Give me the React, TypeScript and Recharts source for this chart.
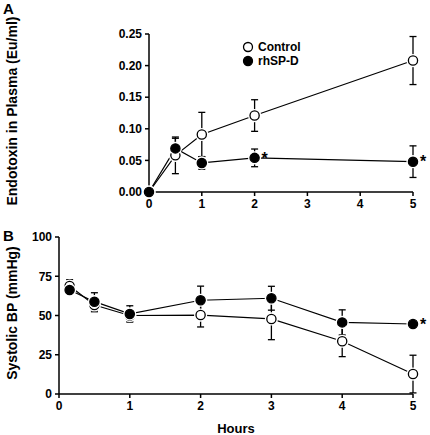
import React from "react";
import { ErrorBar, LabelList, Legend, Line, LineChart, XAxis, YAxis } from "recharts";

// Panel A: endotoxin in plasma (Eu/ml)
const hoursA = [0, 0.5, 1, 2, 5];
const controlA = [0, 0.058, 0.091, 0.121, 0.208];
const controlAErr = [0, 0.029, 0.035, 0.025, 0.038];
const rhspdA = [0, 0.069, 0.046, 0.054, 0.048];
const rhspdAErr = [0, 0.016, 0.01, 0.014, 0.025];
const sigA = ["", "", "", "*", "*"];
const endoTicks = [0, 0.05, 0.1, 0.15, 0.2, 0.25];

// Panel B: systolic blood pressure (mmHg)
const hoursB = [0.15, 0.5, 1, 2, 3, 4, 5];
const controlB = [68.8, 56.7, 50, 50.3, 47.8, 33.6, 12.7];
const controlBErr = [4, 4.3, 3.5, 7.6, 13.2, 9.8, 12];
const rhspdB = [66.2, 58.8, 51, 59.7, 61, 45.6, 44.6];
const rhspdBErr = [2, 5.7, 5.2, 9, 7.6, 8, 2];
const sigB = ["", "", "", "", "", "", "*"];
const bpTicks = [0, 25, 50, 75, 100];

const hourTicks = [0, 1, 2, 3, 4, 5];
const seriesNames = ["Control", "rhSP-D"];

const tableA = hoursA.map((hour, i) => ({
  hour,
  control: controlA[i],
  controlErr: controlAErr[i],
  rhspd: rhspdA[i],
  rhspdErr: rhspdAErr[i],
  sig: sigA[i],
}));

const tableB = hoursB.map((hour, i) => ({
  hour,
  control: controlB[i],
  controlErr: controlBErr[i],
  rhspd: rhspdB[i],
  rhspdErr: rhspdBErr[i],
  sig: sigB[i],
}));

const FONT = '"Liberation Sans", Arial, sans-serif';
const tickStyle = { fill: "#000", fontSize: 12, fontWeight: 700, fontFamily: FONT };
const axisStroke = { stroke: "#000", strokeWidth: 1.5 };

function Marker(props: any) {
  const { cx, cy, filled } = props;
  if (cx == null || cy == null) return null;
  return (
    <g>
      <circle cx={cx} cy={cy} r={6.6} fill="#fff" />
      <circle cx={cx} cy={cy} r={4.6} fill={filled ? "#000" : "#fff"} stroke="#000" strokeWidth={1.3} />
    </g>
  );
}

function LegendBox() {
  return (
    <div style={{ fontFamily: FONT, fontWeight: 700, fontSize: 12, lineHeight: "14px" }}>
      {seriesNames.map((name, i) => (
        <div key={name} style={{ display: "flex", alignItems: "center" }}>
          <svg width={12} height={12} style={{ marginRight: 4 }}>
            <circle cx={6} cy={6} r={4.5} fill={i === 1 ? "#000" : "#fff"} stroke="#000" strokeWidth={1.3} />
          </svg>
          {name}
        </div>
      ))}
    </div>
  );
}

function Panel({
  data,
  height,
  margin,
  xHeight,
  domain,
  ticks,
  format,
  showLegend,
  xLabel,
}: {
  data: any[];
  height: number;
  margin: { top: number; right: number; left: number; bottom: number };
  xHeight: number;
  domain: [number, number];
  ticks: number[];
  format: (v: number) => string;
  showLegend?: boolean;
  xLabel?: string;
}) {
  return (
    <LineChart width={430} height={height} data={data} margin={margin}>
      <XAxis
        type="number"
        dataKey="hour"
        domain={[0, 5]}
        ticks={hourTicks}
        height={xHeight}
        tickSize={4}
        tickMargin={3}
        axisLine={axisStroke}
        tickLine={axisStroke}
        tick={tickStyle}
        label={
          xLabel
            ? {
                value: xLabel,
                position: "insideBottom",
                offset: 1,
                style: { fill: "#000", fontSize: 13, fontWeight: 700, fontFamily: FONT },
              }
            : undefined
        }
      />
      <YAxis
        type="number"
        domain={domain}
        ticks={ticks}
        width={40}
        tickSize={4}
        tickMargin={3}
        axisLine={axisStroke}
        tickLine={axisStroke}
        tick={tickStyle}
        tickFormatter={format}
      />
      {showLegend && (
        <Legend
          layout="vertical"
          verticalAlign="top"
          align="left"
          content={() => <LegendBox />}
          wrapperStyle={{ left: 242, top: 40, width: 90 }}
        />
      )}
      <Line
        dataKey="control"
        name="Control"
        stroke="#000"
        strokeWidth={1.2}
        dot={(p: any) => <Marker key={`c${p.index}`} {...p} />}
        activeDot={false}
        isAnimationActive={false}
      >
        <ErrorBar dataKey="controlErr" direction="y" width={3.5} stroke="#000" strokeWidth={1.3} />
      </Line>
      <Line
        dataKey="rhspd"
        name="rhSP-D"
        stroke="#000"
        strokeWidth={1.2}
        dot={(p: any) => <Marker key={`r${p.index}`} {...p} filled />}
        activeDot={false}
        isAnimationActive={false}
      >
        <ErrorBar dataKey="rhspdErr" direction="y" width={3.5} stroke="#000" strokeWidth={1.3} />
        <LabelList
          dataKey="sig"
          position="right"
          offset={7}
          style={{ fill: "#000", fontSize: 16, fontWeight: 700, fontFamily: FONT }}
        />
      </Line>
    </LineChart>
  );
}

const titleStyle: React.CSSProperties = {
  position: "absolute",
  fontFamily: FONT,
  fontWeight: 700,
  fontSize: 14,
  whiteSpace: "nowrap",
  transform: "translate(-50%, -50%) rotate(-90deg)",
};

const letterStyle: React.CSSProperties = {
  position: "absolute",
  fontFamily: FONT,
  fontWeight: 700,
  fontSize: 15,
  lineHeight: "15px",
};

export default function App() {
  return (
    <div style={{ position: "absolute", left: 0, top: 0, width: 430, height: 435, background: "#fff" }}>
      <div style={{ position: "absolute", left: 0, top: 0 }}>
        <Panel
          data={tableA}
          height={215}
          margin={{ top: 34, right: 17, left: 19, bottom: 3 }}
          xHeight={20}
          domain={[0, 0.25]}
          ticks={endoTicks}
          format={(v) => v.toFixed(2)}
          showLegend
        />
      </div>
      <div style={{ position: "absolute", left: 0, top: 200 }}>
        <Panel
          data={tableB}
          height={235}
          margin={{ top: 37, right: 17, left: 19, bottom: 1 }}
          xHeight={40}
          domain={[0, 100]}
          ticks={bpTicks}
          format={(v) => String(v)}
          xLabel="Hours"
        />
      </div>
      <div style={{ ...letterStyle, left: 3, top: 1 }}>A</div>
      <div style={{ ...letterStyle, left: 3, top: 228 }}>B</div>
      <div style={{ ...titleStyle, left: 12, top: 111 }}>Endotoxin in Plasma (Eu/ml)</div>
      <div style={{ ...titleStyle, left: 12, top: 313 }}>Systolic BP (mmHg)</div>
    </div>
  );
}
